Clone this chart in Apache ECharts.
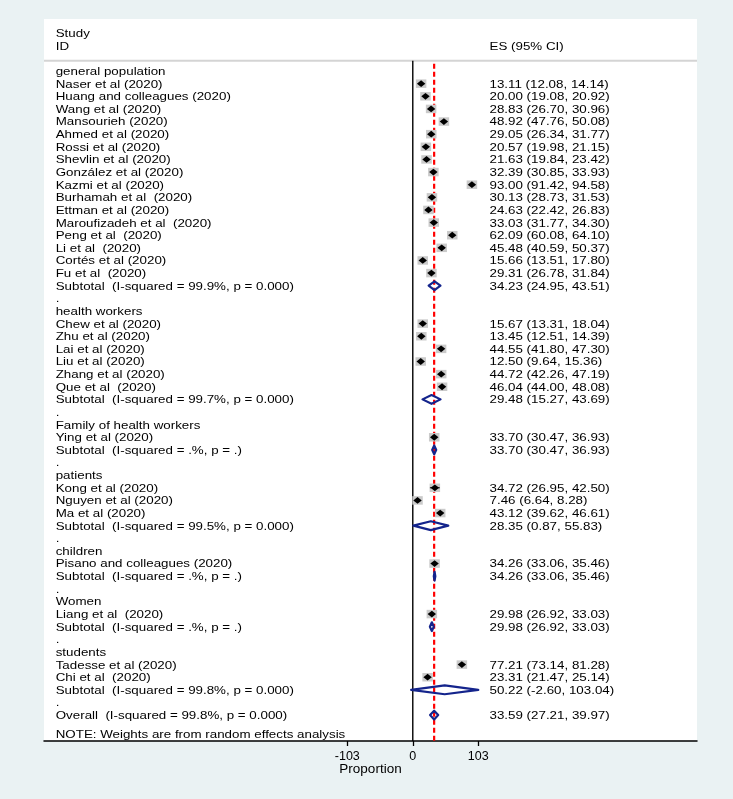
<!DOCTYPE html>
<html>
<head>
<meta charset="utf-8">
<script src="https://cdn.jsdelivr.net/npm/echarts@6/dist/echarts.min.js"></script>
<style>
  html, body { margin: 0; padding: 0; background: #eaf2f3; }
  #chart { width: 733px; height: 799px; }
</style>
</head>
<body>
<div id="chart"></div>
<script>
// subgroups, in plot order
const groupNames = ['general population', 'health workers', 'Family of health workers', 'patients', 'children', 'Women', 'students']

const studyNames = [
  'Naser et al (2020)', 'Huang and colleagues (2020)', 'Wang et al (2020)', 'Mansourieh (2020)',
  'Ahmed et al (2020)', 'Rossi et al (2020)', 'Shevlin et al (2020)', 'González et al (2020)',
  'Kazmi et al (2020)', 'Burhamah et al  (2020)', 'Ettman et al (2020)', 'Maroufizadeh et al  (2020)',
  'Peng et al  (2020)', 'Li et al  (2020)', 'Cortés et al (2020)', 'Fu et al  (2020)',
  'Chew et al (2020)', 'Zhu et al (2020)', 'Lai et al (2020)', 'Liu et al (2020)', 'Zhang et al (2020)', 'Que et al  (2020)',
  'Ying et al (2020)',
  'Kong et al (2020)', 'Nguyen et al (2020)', 'Ma et al (2020)',
  'Pisano and colleagues (2020)',
  'Liang et al  (2020)',
  'Tadesse et al (2020)', 'Chi et al  (2020)',
]
const studyGroup = [0, 0, 0, 0, 0, 0, 0, 0, 0, 0, 0, 0, 0, 0, 0, 0, 1, 1, 1, 1, 1, 1, 2, 3, 3, 3, 4, 5, 6, 6]
const studyES = [13.11, 20.00, 28.83, 48.92, 29.05, 20.57, 21.63, 32.39, 93.00, 30.13, 24.63, 33.03, 62.09, 45.48, 15.66, 29.31,
  15.67, 13.45, 44.55, 12.50, 44.72, 46.04, 33.70, 34.72, 7.46, 43.12, 34.26, 29.98, 77.21, 23.31]
const studyLo = [12.08, 19.08, 26.70, 47.76, 26.34, 19.98, 19.84, 30.85, 91.42, 28.73, 22.42, 31.77, 60.08, 40.59, 13.51, 26.78,
  13.31, 12.51, 41.80, 9.64, 42.26, 44.00, 30.47, 26.95, 6.64, 39.62, 33.06, 26.92, 73.14, 21.47]
const studyHi = [14.14, 20.92, 30.96, 50.08, 31.77, 21.15, 23.42, 33.93, 94.58, 31.53, 26.83, 34.30, 64.10, 50.37, 17.80, 31.84,
  18.04, 14.39, 47.30, 15.36, 47.19, 48.08, 36.93, 42.50, 8.28, 46.61, 35.46, 33.03, 81.28, 25.14]

const subtotalLabels = [
  'Subtotal  (I-squared = 99.9%, p = 0.000)',
  'Subtotal  (I-squared = 99.7%, p = 0.000)',
  'Subtotal  (I-squared = .%, p = .)',
  'Subtotal  (I-squared = 99.5%, p = 0.000)',
  'Subtotal  (I-squared = .%, p = .)',
  'Subtotal  (I-squared = .%, p = .)',
  'Subtotal  (I-squared = 99.8%, p = 0.000)',
]
const subtotalES = [34.23, 29.48, 33.70, 28.35, 34.26, 29.98, 50.22]
const subtotalLo = [24.95, 15.27, 30.47, 0.87, 33.06, 26.92, -2.60]
const subtotalHi = [43.51, 43.69, 36.93, 55.83, 35.46, 33.03, 103.04]

const overallLabel = 'Overall  (I-squared = 99.8%, p = 0.000)'
const overallES = 33.59
const overallLo = 27.21
const overallHi = 39.97

const noteText = 'NOTE: Weights are from random effects analysis'
const xTicks = [-103, 0, 103]

// layout
const X_MIN = -580
const X_MAX = 447
const Y_MIN = -4.12
const Y_MAX = 53.05
const HEADER_LINE = -0.82
const LABEL_X = 11.7
const ES_X = 445.5
const TEXT_DY = 1
const FONT = 'Liberation Sans, Arial, sans-serif'
const FONT_SIZE = 10.6
const STRETCH = 1.26
const NAVY = '#14248c'

function fmtCI(es, lo, hi) {
  return `${es.toFixed(2)} (${lo.toFixed(2)}, ${hi.toFixed(2)})`
}

const textRows = [
  { row: -3, left: 'Study', right: '' },
  { row: -2, left: 'ID', right: 'ES (95% CI)' },
]
const studyRows = []
const pooledRows = []
let row = 0
groupNames.forEach((group, gi) => {
  textRows.push({ row: row++, left: group, right: '' })
  studyNames.forEach((name, i) => {
    if (studyGroup[i] !== gi) return
    textRows.push({ row, left: name, right: fmtCI(studyES[i], studyLo[i], studyHi[i]) })
    studyRows.push([studyES[i], row, studyLo[i], studyHi[i]])
    row++
  })
  textRows.push({ row, left: subtotalLabels[gi], right: fmtCI(subtotalES[gi], subtotalLo[gi], subtotalHi[gi]) })
  pooledRows.push([subtotalES[gi], row, subtotalLo[gi], subtotalHi[gi]])
  row++
  textRows.push({ row: row++, left: '.', right: '' })
})
textRows.push({ row, left: overallLabel, right: fmtCI(overallES, overallLo, overallHi) })
pooledRows.push([overallES, row, overallLo, overallHi])
textRows.push({ row: row + 1.5, left: noteText, right: '' })

function textEl(x, y, text) {
  return {
    type: 'text', x, y: y + TEXT_DY, scaleX: STRETCH,
    style: { text, fontSize: FONT_SIZE, fontFamily: FONT, fill: '#000', align: 'left', verticalAlign: 'middle' },
  }
}

const chart = echarts.init(document.getElementById('chart'))
chart.setOption({
  backgroundColor: '#eaf2f3',
  animation: false,
  grid: { left: 44, right: 36, top: 19, bottom: 58, show: true, backgroundColor: '#ffffff', borderWidth: 0, outerBoundsMode: 'none' },
  xAxis: {
    type: 'value', min: X_MIN, max: X_MAX,
    axisLine: { show: true, onZero: false, lineStyle: { color: '#000', width: 1.5 } },
    axisTick: { show: true, customValues: xTicks, length: 5, lineStyle: { color: '#000', width: 1.3 } },
    axisLabel: { customValues: xTicks, color: '#000', fontSize: 12.5, fontFamily: FONT, margin: 9 },
    splitLine: { show: false },
    name: 'Proportion', nameLocation: 'middle', nameGap: 21, nameMoveOverlap: false,
    nameTextStyle: { color: '#000', fontSize: 13.5, fontFamily: FONT },
  },
  yAxis: { type: 'value', inverse: true, min: Y_MIN, max: Y_MAX, show: false },
  series: [
    {
      // reference lines: header rule, null line, overall effect
      type: 'custom', z: 1, silent: true,
      data: [[overallES, HEADER_LINE]],
      renderItem(params, api) {
        const cs = params.coordSys
        const top0 = api.coord([0, HEADER_LINE])
        const bot0 = api.coord([0, Y_MAX])
        const topO = api.coord([api.value(0), HEADER_LINE])
        return {
          type: 'group', children: [
            { type: 'line', shape: { x1: cs.x, y1: top0[1], x2: cs.x + cs.width, y2: top0[1] }, style: { stroke: '#d4d4d4', lineWidth: 2 } },
            { type: 'line', shape: { x1: top0[0], y1: top0[1], x2: bot0[0], y2: bot0[1] }, style: { stroke: '#000', lineWidth: 1.4 } },
            { type: 'line', shape: { x1: topO[0], y1: topO[1] + 3, x2: topO[0], y2: bot0[1] }, style: { stroke: '#ff0000', lineWidth: 2.2, lineDash: [5, 3] } },
          ],
        }
      },
    },
    {
      // individual studies: weight box, CI, point estimate
      type: 'custom', z: 2, silent: true,
      data: studyRows,
      renderItem(params, api) {
        const c = api.coord([api.value(0), api.value(1)])
        const l = api.coord([api.value(2), api.value(1)])
        const h = api.coord([api.value(3), api.value(1)])
        return {
          type: 'group', children: [
            { type: 'rect', shape: { x: c[0] - 5.25, y: c[1] - 4.25, width: 10.5, height: 8.5 }, style: { fill: '#cacaca' } },
            { type: 'line', shape: { x1: l[0], y1: c[1], x2: h[0], y2: c[1] }, style: { stroke: '#000', lineWidth: 1 } },
            { type: 'polygon', shape: { points: [[c[0] - 4.2, c[1]], [c[0], c[1] - 3.4], [c[0] + 4.2, c[1]], [c[0], c[1] + 3.4]] }, style: { fill: '#000' } },
          ],
        }
      },
    },
    {
      // pooled estimates
      type: 'custom', z: 3, silent: true,
      data: pooledRows,
      renderItem(params, api) {
        const c = api.coord([api.value(0), api.value(1)])
        const l = api.coord([api.value(2), api.value(1)])
        const h = api.coord([api.value(3), api.value(1)])
        return {
          type: 'polygon',
          shape: { points: [[l[0], c[1]], [c[0], c[1] - 4.4], [h[0], c[1]], [c[0], c[1] + 4.4]] },
          style: { fill: 'none', stroke: NAVY, lineWidth: 2.2, lineJoin: 'round' },
        }
      },
    },
    {
      // text columns
      type: 'custom', z: 4, silent: true,
      data: textRows.map(r => [0, r.row]),
      renderItem(params, api) {
        const cs = params.coordSys
        const y = api.coord([0, api.value(1)])[1]
        const r = textRows[params.dataIndex]
        const children = [textEl(cs.x + LABEL_X, y, r.left)]
        if (r.right) children.push(textEl(cs.x + ES_X, y, r.right))
        return { type: 'group', children }
      },
    },
  ],
})
</script>
</body>
</html>
